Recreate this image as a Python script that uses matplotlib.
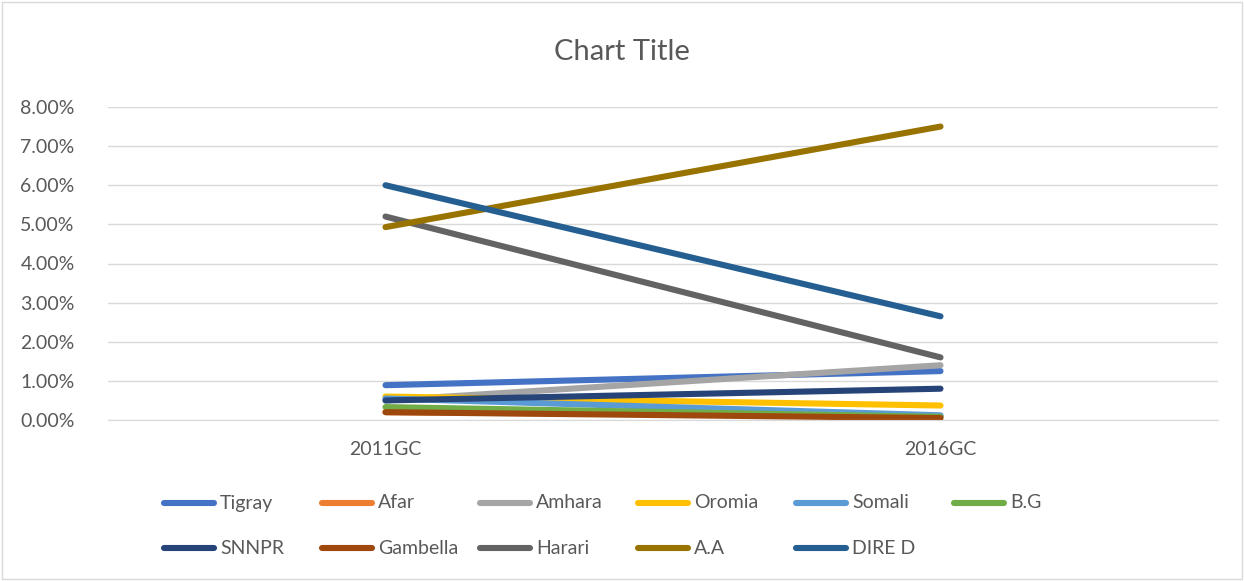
import matplotlib.pyplot as plt
from matplotlib.lines import Line2D
from matplotlib.ticker import FuncFormatter

plt.rcParams['font.family'] = ['Lato', 'DejaVu Sans']

years = ["2011GC", "2016GC"]
regions = ["Tigray", "Afar", "Amhara", "Oromia", "Somali", "B.G",
           "SNNPR", "Gambella", "Harari", "A.A", "DIRE D"]
values = {
    "Tigray":   [0.89, 1.25],
    "Afar":     [0.20, 0.10],
    "Amhara":   [0.50, 1.40],
    "Oromia":   [0.60, 0.37],
    "Somali":   [0.55, 0.12],
    "B.G":      [0.33, 0.08],
    "SNNPR":    [0.50, 0.80],
    "Gambella": [0.20, 0.05],
    "Harari":   [5.20, 1.60],
    "A.A":      [4.93, 7.50],
    "DIRE D":   [6.00, 2.65],
}
colors = ["#4472C4", "#ED7D31", "#A5A5A5", "#FFC000", "#5B9BD5", "#70AD47",
          "#264478", "#9E480E", "#636363", "#997300", "#255E91"]

W, H = 1244, 581
fig = plt.figure(figsize=(W / 100, H / 100), dpi=100)
ax = fig.add_axes([108 / W, 1 - 420 / H, 1110 / W, 313 / H])

x = [0, 1]
for name, c in zip(regions, colors):
    ax.plot(x, values[name], color=c, lw=4.4, solid_capstyle="round", label=name)

ax.set_xlim(-0.5, 1.5)
ax.set_ylim(0, 8)
ax.set_yticks(range(0, 9))
ax.yaxis.set_major_formatter(FuncFormatter(lambda v, p: f"{v:.2f}%"))
ax.set_xticks(x)
ax.set_xticklabels(years)
ax.grid(axis="y", color="#D9D9D9", lw=1)
ax.set_axisbelow(True)
for s in ["top", "right", "left"]:
    ax.spines[s].set_visible(False)
ax.spines["bottom"].set_color("#D9D9D9")
ax.tick_params(length=0, labelsize=14, labelcolor="#595959")
ax.tick_params(axis="y", pad=24)
ax.tick_params(axis="x", pad=15)

fig.text(0.5, 1 - 52 / H, "Chart Title", ha="center", va="center",
         fontsize=21, color="#595959")

# legend laid out in even columns, row by row
for i, (name, c) in enumerate(zip(regions, colors)):
    row, col = divmod(i, 6)
    x0 = 164 + 158 * col
    y0 = 1 - (503 + 45 * row) / H
    fig.add_artist(Line2D([x0 / W, (x0 + 50) / W], [y0, y0], color=c, lw=4.4,
                          solid_capstyle="round", transform=fig.transFigure))
    fig.text((x0 + 56) / W, y0, name, ha="left", va="center",
             fontsize=14, color="#595959")

fig.patches.append(plt.Rectangle((0.002, 0.003), 0.996, 0.994,
                                 transform=fig.transFigure, fill=False,
                                 edgecolor="#D9D9D9", lw=1))

fig.savefig("out.png", dpi=100)
